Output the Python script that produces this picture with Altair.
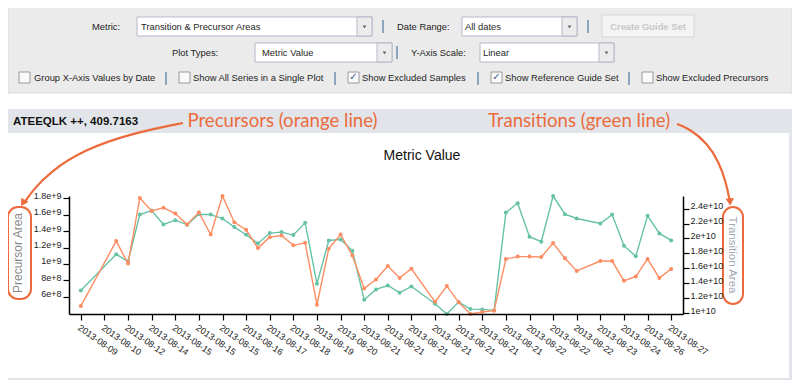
import altair as alt
import pandas as pd

# ---------------- data ----------------
sample_idx = [0, 3, 4, 5, 6, 7, 8, 9, 10, 11, 12, 13, 14, 15, 16, 17, 18, 19, 20, 21, 22, 23, 24, 25, 26, 27, 28,
              30, 31, 32, 33, 34, 35, 36, 37, 38, 39, 40, 41, 42, 44, 45, 46, 47, 48, 49, 50]
precursor_area = [4.87e8, 12.79e8, 10.05e8, 18.05e8, 16.47e8, 16.87e8, 16.15e8, 14.81e8, 16.3e8, 13.6e8,
                  18.29e8, 15.09e8, 14.17e8, 11.94e8, 13.27e8, 13.48e8, 12.27e8, 12.59e8, 5.03e8, 11.87e8,
                  13.6e8, 11.02e8, 7.02e8, 8.11e8, 9.76e8, 8.3e8, 9.42e8, 5.39e8, 7.3e8, 5.32e8, 3.9e8,
                  4.15e8, 4.3e8, 10.6e8, 10.9e8, 10.9e8, 10.85e8, 12.55e8, 10.69e8, 9.15e8, 10.36e8,
                  10.36e8, 7.94e8, 8.47e8, 10.6e8, 8.3e8, 9.39e8]
transition_area = [13.03e9, 17.87e9, 16.93e9, 23.2e9, 23.73e9, 21.87e9, 22.45e9, 21.83e9, 23.25e9, 23.2e9,
                   22.67e9, 21.52e9, 20.49e9, 19.33e9, 20.72e9, 20.85e9, 20.45e9, 22.09e9, 13.92e9, 19.73e9,
                   19.87e9, 18.36e9, 11.79e9, 13.16e9, 13.69e9, 12.73e9, 13.56e9, 11.25e9, 9.87e9, 11.47e9,
                   10.53e9, 10.49e9, 10.36e9, 23.47e9, 24.72e9, 20.23e9, 19.56e9, 25.69e9, 23.25e9, 22.67e9,
                   22.0e9, 23.2e9, 19.03e9, 17.6e9, 23.03e9, 20.67e9, 19.73e9]
x_tick_values = list(range(0, 51, 2))
x_tick_labels = ["2013-08-09", "2013-08-10", "2013-08-12", "2013-08-14", "2013-08-15", "2013-08-15",
                 "2013-08-15", "2013-08-16", "2013-08-17", "2013-08-18", "2013-08-19", "2013-08-20",
                 "2013-08-21", "2013-08-21", "2013-08-21", "2013-08-21", "2013-08-21", "2013-08-21",
                 "2013-08-21", "2013-08-22", "2013-08-22", "2013-08-22", "2013-08-23", "2013-08-24",
                 "2013-08-26", "2013-08-27"]
left_ticks = [6e8, 8e8, 1e9, 1.2e9, 1.4e9, 1.6e9, 1.8e9]
right_ticks = [1e10, 1.2e10, 1.4e10, 1.6e10, 1.8e10, 2e10, 2.2e10, 2.4e10]

ORANGE = "#fc8d62"
GREEN = "#66c2a5"
ANNO = "#ec6a3c"
UI_FONT = "Liberation Sans"
AX_FONT = "Liberation Sans"

# plot area origin on the page (reference pixels)
OX, OY = 69, 196
W, H = 614, 118

df = pd.DataFrame({"idx": sample_idx, "precursor": precursor_area, "transition": transition_area})


def XS(f):
    return alt.X(f"{f}:Q", scale=None, axis=None)


def YS(f):
    return alt.Y(f"{f}:Q", scale=None, axis=None)


def rects(rows, **kw):
    d = pd.DataFrame(rows, columns=["x", "x2", "y", "y2"])
    d[["x", "x2"]] -= OX
    d[["y", "y2"]] -= OY
    return alt.Chart(d).mark_rect(**kw).encode(x=XS("x"), x2="x2:Q", y=YS("y"), y2="y2:Q")


def texts(rows, **kw):
    d = pd.DataFrame(rows, columns=["x", "y", "t"])
    d["x"] = d["x"] - OX
    d["y"] = d["y"] - OY
    return alt.Chart(d).mark_text(**kw).encode(x=XS("x"), y=YS("y"), text="t:N")


# ---------------- UI chrome ----------------
ctrl_panel = rects([(8, 792, 6, 93)], fill="#ebebeb", stroke="#dcdcdc", strokeWidth=1)
chart_panel = rects([(8, 792, 109, 380)], fill="#e1e5e9")
chart_inner = rects([(8, 789, 133, 378)], fill="#ffffff")

dropdowns = rects([(137, 372, 17, 36), (462, 577, 17, 36), (255, 392, 43, 62), (480, 614, 43, 62)],
                  fill="#ffffff", stroke="#b5b8c8", strokeWidth=1)
dd_buttons = rects([(357, 372, 17, 36), (562, 577, 17, 36), (377, 392, 43, 62), (599, 614, 43, 62)],
                   fill="#ececec", stroke="#b5b8c8", strokeWidth=1)
dd_arrow_df = pd.DataFrame({"x": [364.5, 569.5, 384.5, 606.5], "y": [27, 27, 53, 53]})
dd_arrow_df["x"] -= OX
dd_arrow_df["y"] -= OY
dd_arrows = alt.Chart(dd_arrow_df).mark_point(shape="triangle-down", filled=True, size=14,
                                              color="#666666", opacity=1).encode(x=XS("x"), y=YS("y"))
button = rects([(602, 694, 15, 37)], fill="#f4f4f4", stroke="#d5d5d5", strokeWidth=1)
checkboxes = rects([(19, 30, 72, 83), (179, 190, 72, 83), (348, 359, 72, 83), (491, 502, 72, 83),
                    (642, 653, 72, 83)], fill="#fafafa", stroke="#9a9a9a", strokeWidth=1)

sep_df = pd.DataFrame({"x": [383, 588, 397, 166, 335, 478, 629],
                       "y": [20, 20, 46, 72, 72, 72, 72],
                       "y2": [33, 33, 59, 85, 85, 85, 85]})
sep_df["x"] -= OX
sep_df[["y", "y2"]] -= OY
seps = alt.Chart(sep_df).mark_rule(color="#2f5f8f", strokeWidth=1).encode(x=XS("x"), y=YS("y"), y2="y2:Q")

ui_labels = texts([
    (92, 27, "Metric:"), (141, 27, "Transition & Precursor Areas"), (397, 27, "Date Range:"),
    (465, 27, "All dates"),
    (172, 53, "Plot Types:"), (262, 53, "Metric Value"), (411, 53, "Y-Axis Scale:"), (483, 53, "Linear"),
    (34, 78, "Group X-Axis Values by Date"), (193, 78, "Show All Series in a Single Plot"),
    (362, 78, "Show Excluded Samples"), (505, 78, "Show Reference Guide Set"),
    (656, 78, "Show Excluded Precursors"),
], align="left", baseline="middle", font=UI_FONT, fontSize=9.4, color="#1e1e1e")
button_text = texts([(648, 27, "Create Guide Set")], align="center", baseline="middle", font=UI_FONT,
                    fontSize=9.4, fontWeight="bold", color="#c8c8c8")
checks = texts([(353.5, 77, "\u2713"), (496.5, 77, "\u2713")], align="center", baseline="middle",
               font="DejaVu Sans", fontSize=10, color="#3b5b8c")

header = texts([(13, 122, "ATEEQLK ++, 409.7163")], align="left", baseline="middle", font=AX_FONT,
               fontSize=11.5, fontWeight="bold", color="#111111")
title = texts([(422, 156, "Metric Value")], align="center", baseline="middle", font=AX_FONT,
              fontSize=14, color="#111111")
ytitle_left = texts([(18, 253, "Precursor Area")], angle=270, align="center", baseline="middle",
                    font=AX_FONT, fontSize=12, color="#8a8a8a")
ytitle_right = texts([(732, 255, "Transition Area")], angle=90, align="center", baseline="middle",
                     font=AX_FONT, fontSize=11.5, color="#a3a9b4")

# ---------------- data layers ----------------
x_scale = alt.Scale(domain=[-1, 51], nice=False, zero=False)
label_expr = "[" + ",".join(f"'{s}'" for s in x_tick_labels) + "][round(datum.value / 2)]"

axis_common = dict(domainColor="#000000", tickColor="#000000", domainWidth=1.5, tickWidth=1.2,
                   tickSize=6, labelFont=AX_FONT, labelFontSize=9, labelColor="#222222",
                   labelFlush=False, labelOverlap=False, labelBound=False, grid=False, title=None,
                   zindex=2)

green_line = alt.Chart(df).mark_line(
    color=GREEN, strokeWidth=1.4,
    point=alt.OverlayMarkDef(color=GREEN, filled=True, size=16, opacity=1)
).encode(
    x=alt.X("idx:Q", scale=x_scale, axis=None),
    y=alt.Y("transition:Q", scale=alt.Scale(zero=False, nice=False),
            axis=alt.Axis(orient="right", values=right_ticks, format="~e", labelBaseline="alphabetic",
                          labelPadding=1, **axis_common)),
)

orange_line = alt.Chart(df).mark_line(
    color=ORANGE, strokeWidth=1.4,
    point=alt.OverlayMarkDef(color=ORANGE, filled=True, size=16, opacity=1)
).encode(
    x=alt.X("idx:Q", scale=x_scale,
            axis=alt.Axis(orient="bottom", values=x_tick_values, labelExpr=label_expr, labelAngle=35,
                          labelAlign="left", labelBaseline="top", labelPadding=3, **axis_common)),
    y=alt.Y("precursor:Q", scale=alt.Scale(zero=False, nice=False),
            axis=alt.Axis(orient="left", values=left_ticks, format="~e", labelBaseline="alphabetic",
                          labelPadding=2, **axis_common)),
)

# ---------------- annotations ----------------
anno_text = texts([(282.5, 121, "Precursors (orange line)"), (579, 121, "Transitions (green line)")],
                  align="center", baseline="middle", font="Lato", fontSize=18.6, color=ANNO)

curve_rows = [
    ("a", 0, 183, 123), ("a", 1, 133, 133), ("a", 2, 83, 150), ("a", 3, 50, 172), ("a", 4, 33, 190),
    ("a", 5, 24, 203),
    ("b", 0, 677, 124), ("b", 1, 690, 129), ("b", 2, 707, 143), ("b", 3, 719, 162), ("b", 4, 726, 182),
    ("b", 5, 730, 202),
]
curve_df = pd.DataFrame(curve_rows, columns=["g", "i", "x", "y"])
curve_df["x"] -= OX
curve_df["y"] -= OY
curves = alt.Chart(curve_df).mark_line(color=ANNO, strokeWidth=2.2, interpolate="basis").encode(
    x=XS("x"), y=YS("y"), detail="g:N", order="i:Q")

head_df = pd.DataFrame({"x": [23, 730], "y": [203, 202], "ang": [211, 176]})
head_df["x"] -= OX
head_df["y"] -= OY
heads = alt.Chart(head_df).mark_point(shape="triangle-up", filled=True, size=70, color=ANNO,
                                      opacity=1).encode(x=XS("x"), y=YS("y"),
                                                        angle=alt.Angle("ang:Q", scale=None))

outline = rects([(8, 31, 207, 299), (723, 743, 207, 304)], fill="transparent", stroke=ANNO,
                strokeWidth=2, cornerRadius=10)

chart = alt.layer(
    ctrl_panel, chart_panel, chart_inner, dropdowns, dd_buttons, dd_arrows, button, checkboxes, seps,
    ui_labels, button_text, checks, header, title, ytitle_left, ytitle_right,
    green_line, orange_line,
    anno_text, curves, heads, outline,
).resolve_scale(x="independent", y="independent").properties(
    width=W, height=H,
    autosize=alt.AutoSizeParams(type="none"),
    padding={"left": OX - 8, "top": OY - 8, "right": 784 - (OX - 8) - W, "bottom": 372 - (OY - 8) - H},
    background="#ffffff",
).configure_view(stroke=None)

chart.save("out.html", embed_options={"renderer": "svg", "actions": False})
